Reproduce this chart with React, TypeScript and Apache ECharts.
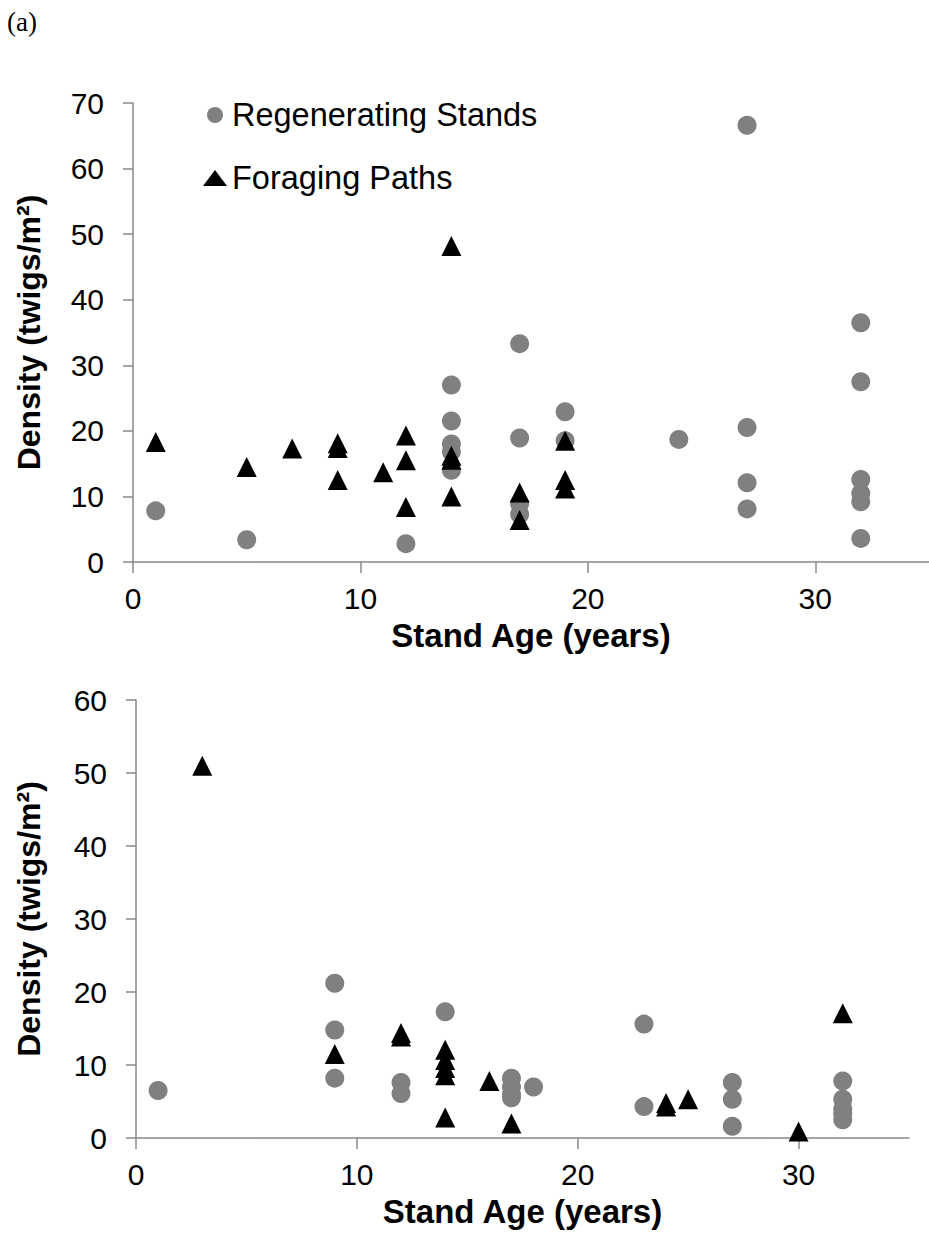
import React, { useEffect, useRef } from "react";
import * as echarts from "echarts";

// Panel 1 (top)
const topRegenerating: [number, number][] = [
  [1, 7.8], [5, 3.4], [12, 2.8], [14, 27.0], [14, 21.5], [14, 18.0], [14, 16.8], [14, 14.0],
  [17, 33.3], [17, 18.9], [17, 8.9], [17, 7.3], [19, 22.9], [19, 18.5], [24, 18.7],
  [27, 66.6], [27, 20.5], [27, 12.1], [27, 8.1],
  [32, 36.5], [32, 27.5], [32, 12.6], [32, 10.5], [32, 9.2], [32, 3.6],
];
const topForaging: [number, number][] = [
  [1, 18.3], [5, 14.5], [7, 17.3], [9, 18.1], [9, 17.4], [9, 12.5], [11, 13.7],
  [12, 19.3], [12, 15.5], [12, 8.4], [14, 48.2], [14, 16.2], [14, 15.6], [14, 10.0],
  [17, 10.6], [17, 6.4], [19, 18.5], [19, 12.5], [19, 11.2],
];

// Panel 2 (bottom)
const bottomRegenerating: [number, number][] = [
  [1, 6.5], [9, 21.2], [9, 14.8], [9, 8.2], [12, 7.6], [12, 6.1], [14, 17.3],
  [17, 8.2], [17, 7.0], [17, 6.0], [17, 5.5], [18, 7.0], [23, 15.6], [23, 4.3],
  [27, 7.6], [27, 5.3], [27, 1.6], [32, 7.8], [32, 5.3], [32, 4.0], [32, 3.3], [32, 2.5],
];
const bottomForaging: [number, number][] = [
  [3, 51.0], [9, 11.5], [12, 14.4], [12, 13.9], [14, 12.1], [14, 10.7], [14, 9.6], [14, 8.6],
  [14, 2.8], [16, 7.8], [17, 2.0], [24, 4.8], [24, 4.3], [25, 5.3], [30, 0.9], [32, 17.1],
];

const xTicks = [0, 10, 20, 30];
const seriesNames = ["Regenerating Stands", "Foraging Paths"];
const xTitle = "Stand Age (years)";
const yTitle = "Density (twigs/m²)";
const panelLabel = "(a)";

const FONT = "Liberation Sans";
const SERIF = "Liberation Serif";
const AXIS_COLOR = "#888888";
const GRAY = "#808080";

export default function App() {
  const ref = useRef<HTMLDivElement>(null);
  useEffect(() => {
    if (!ref.current) return;
    const chart = echarts.init(ref.current, undefined, { renderer: "svg" });

    const xAxisCommon = (gridIndex: number) => ({
      type: "value" as const,
      gridIndex,
      min: 0,
      max: 35,
      interval: 10,
      splitLine: { show: false },
      axisLine: { show: true, lineStyle: { color: AXIS_COLOR, width: 1.5 } },
      axisTick: { show: true, length: 11, customValues: xTicks, lineStyle: { color: AXIS_COLOR, width: 1.5 } },
      axisLabel: { customValues: xTicks, fontSize: 30, color: "#000", fontFamily: FONT, margin: 21 },
      name: xTitle,
      nameLocation: "middle" as const,
      nameGap: 57,
      nameTextStyle: { fontSize: 33, fontWeight: "bold" as const, color: "#000", fontFamily: FONT },
    });
    const yAxisCommon = (gridIndex: number, max: number, gap: number) => ({
      type: "value" as const,
      gridIndex,
      min: 0,
      max,
      interval: 10,
      splitLine: { show: false },
      axisLine: { show: true, lineStyle: { color: AXIS_COLOR, width: 1.5 } },
      axisTick: { show: true, length: 10, lineStyle: { color: AXIS_COLOR, width: 1.5 } },
      axisLabel: { fontSize: 30, color: "#000", fontFamily: FONT, margin: 29 },
      name: yTitle,
      nameLocation: "middle" as const,
      nameGap: gap,
      nameTextStyle: { fontSize: 32, fontWeight: "bold" as const, color: "#000", fontFamily: FONT },
    });

    chart.setOption({
      animation: false,
      backgroundColor: "#fff",
      textStyle: { fontFamily: FONT },
      title: {
        text: panelLabel,
        left: 7,
        top: 8,
        padding: 0,
        textStyle: { fontSize: 27, fontWeight: "normal", fontFamily: SERIF, color: "#000" },
      },
      grid: [
        { left: 133, top: 103, right: -7, height: 459, containLabel: false },
        { left: 136, top: 700, width: 773, height: 438, containLabel: false },
      ],
      xAxis: [xAxisCommon(0), xAxisCommon(1)],
      yAxis: [yAxisCommon(0, 70, 88), yAxisCommon(1, 60, 91)],
      legend: {
        data: seriesNames,
        orient: "vertical",
        left: 203,
        top: 97,
        itemWidth: 24,
        itemHeight: 16,
        itemGap: 27,
        padding: 0,
        textStyle: { fontSize: 32.5, color: "#000", fontFamily: FONT, lineHeight: 36 },
      },
      series: [
        {
          name: seriesNames[0], type: "scatter", xAxisIndex: 0, yAxisIndex: 0,
          symbol: "circle", symbolSize: 19, itemStyle: { color: GRAY, opacity: 1 },
          data: topRegenerating, z: 2,
        },
        {
          name: seriesNames[1], type: "scatter", xAxisIndex: 0, yAxisIndex: 0,
          symbol: "triangle", symbolSize: 20, itemStyle: { color: "#000", opacity: 1 },
          data: topForaging, z: 3,
        },
        {
          name: seriesNames[0], type: "scatter", xAxisIndex: 1, yAxisIndex: 1,
          symbol: "circle", symbolSize: 19, itemStyle: { color: GRAY, opacity: 1 },
          data: bottomRegenerating, z: 2,
        },
        {
          name: seriesNames[1], type: "scatter", xAxisIndex: 1, yAxisIndex: 1,
          symbol: "triangle", symbolSize: 20, itemStyle: { color: "#000", opacity: 1 },
          data: bottomForaging, z: 3,
        },
      ],
    });
    return () => chart.dispose();
  }, []);
  return (
    <div
      ref={ref}
      style={{ position: "absolute", left: 0, top: 0, width: 929, height: 1243, background: "#fff" }}
    />
  );
}
